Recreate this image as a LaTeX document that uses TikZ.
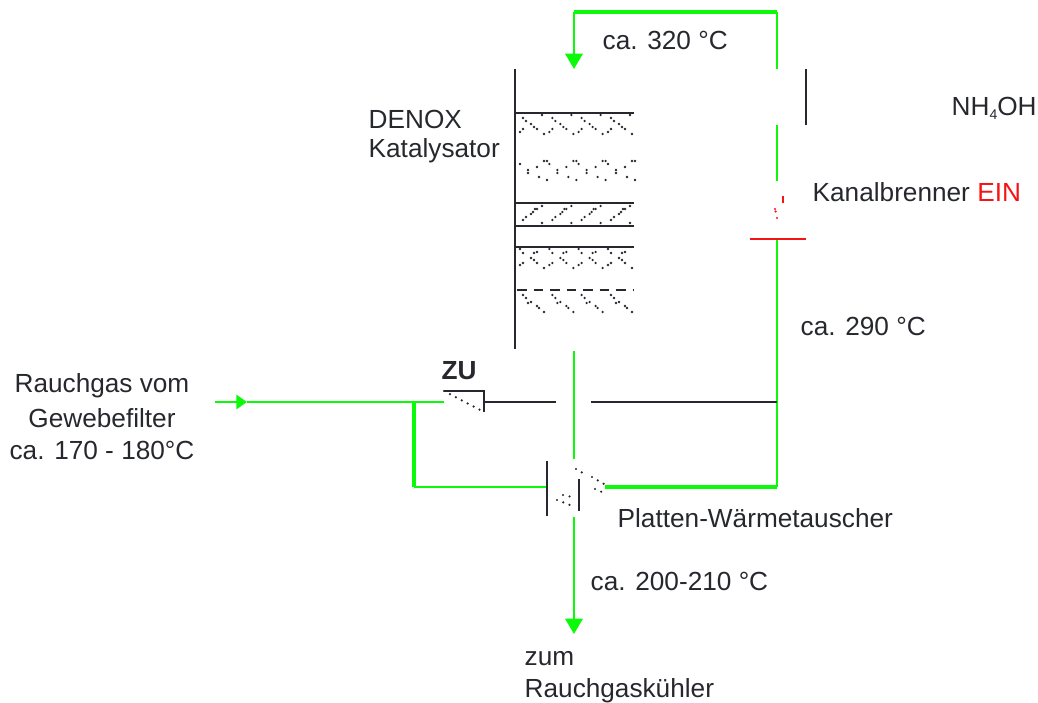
\documentclass[tikz,border=0pt]{standalone}
\usepackage{fontspec}
\setmainfont{Liberation Sans}
\usepackage{xcolor}
\usetikzlibrary{arrows.meta,positioning,calc}
\definecolor{gasgreen}{RGB}{10,250,10}
\definecolor{pipegray}{RGB}{38,40,46}
\definecolor{burnerred}{RGB}{245,20,20}
\tikzset{
  lbl/.style={font=\fontsize{7.45}{9}\selectfont, text=pipegray, inner sep=0pt, anchor=west},
  lblc/.style={lbl, anchor=center},
  gas/.style={draw=gasgreen, line width=0.62pt},
  gasthick/.style={draw=gasgreen, line width=1.15pt},
  gasarrow/.style={gas, -{Triangle[length=4.4pt,width=5pt]}},
  pipe/.style={draw=pipegray, line width=0.55pt},
  bed/.style={draw=pipegray, line width=0.5pt},
  grain/.style={draw=pipegray, line width=0.7pt, line cap=round, dash pattern=on 0pt off 1.9pt},
  grainfill/.style={fill=pipegray},
  flame/.style={draw=burnerred, line width=0.7pt, line cap=round, dash pattern=on 0pt off 1.9pt}
}
% one catalyst layer: dots repeated across the bed
\newcommand{\beddots}[2]{
  \foreach \k in {0,1,2,3} {
    \foreach \dx/\dy in {#2} {
      \fill[grainfill] ({520+\k*29.33+\dx},{#1+\dy}) circle (0.37pt);
    }
  }
}
\begin{document}
\begin{tikzpicture}[x=0.01cm, y=-0.01cm]
  \useasboundingbox (0,0) rectangle (1038,702);
  % Flue gas loop, top
  \coordinate (topL) at (574,12);
  \coordinate (topR) at (777,12);
  \coordinate (katIn) at (574,69);
  \coordinate (ductA) at (777,69);
  \coordinate (ductB) at (777,125);
  \coordinate (ductC) at (777,181);
  \coordinate (burner) at (777,239);
  \coordinate (teeR) at (777,402);
  \coordinate (cornerR) at (777,487);
  \draw[gasthick] (topL) -- (topR);
  \draw[gasarrow] (topL) -- (katIn);
  \draw[gas] (topR) -- (ductA);
  \draw[gas] (ductB) -- (ductC);
  \draw[gas] (burner) -- (cornerR);
  % Ammonia lance
  \coordinate (lanceA) at (806,69);
  \coordinate (lanceB) at (806,125);
  \draw[pipe] (lanceA) -- (lanceB);
  % Burner
  \coordinate (barL) at (750,239);
  \coordinate (barR) at (806,239);
  \coordinate (flA) at (777,218);
  \coordinate (flB) at (775,208);
  \coordinate (flC) at (783,196);
  \draw[burnerred, line width=0.6pt] (barL) -- (barR);
  \draw[flame] (flA) -- (flB);
  \draw[flame] (775,209) -- (780,213);
  \draw[burnerred, line width=0.6pt] (flC) -- (783,203);
  % Catalyst
  \coordinate (wallT) at (515,69);
  \coordinate (wallB) at (515,349);
  \draw[pipe, line width=0.65pt] (wallT) -- (wallB);
  \foreach \y in {113,203,226,247} {
    \draw[bed] (515,\y) -- (634,\y);
  }
  \draw[bed, dash pattern=on 2.8pt off 1.9pt] (517,290) -- (634,290);
  \beddots{113}{0/19,3/16,3/5,6/8,11/11,14/14,17/16,24/21,22/2}
  \beddots{160}{0/4,8/10,8/13,17/7,19/17,24/1,27/1,27/20}
  \beddots{203}{3/17,6/14,11/11,13/9,15/6,17/6,22/3,22/20}
  \beddots{247}{0/2,3/6,0/18,3/16,11/11,14/6,17/5,14/13,17/16,24/21}
  \beddots{290}{3/5,6/8,8/13,11/12,17/16,19/18,24/22}
  % Bypass valve
  \coordinate (vlvA) at (444,391);
  \coordinate (vlvB) at (484,391);
  \coordinate (vlvC) at (484,412);
  \coordinate (vlvIn) at (444,402);
  \coordinate (vlvOut) at (484,402);
  \coordinate (gapL) at (556,402);
  \coordinate (gapR) at (591,402);
  \draw[pipe] (vlvA) -- (vlvB) -- (vlvC);
  \draw[grain] (vlvA) -- (vlvC);
  \draw[pipe] (vlvOut) -- (gapL);
  \draw[pipe] (gapR) -- (teeR);
  % Inlet
  \coordinate (inlet) at (215,402);
  \coordinate (inMid) at (247,402);
  \coordinate (teeL) at (414,402);
  \coordinate (cornerL) at (414,487);
  \coordinate (hxIn) at (547,487);
  \coordinate (hxOut) at (605,487);
  \draw[gas, -{Triangle[length=3pt,width=4pt]}] (inlet) -- (inMid);
  \draw[gas] (inMid) -- (vlvIn);
  \draw[gasthick] (teeL) -- (cornerL);
  \draw[gas, line width=0.75pt] (cornerL) -- (hxIn);
  \draw[gasthick] (hxOut) -- (cornerR);
  % Plate heat exchanger
  \coordinate (hxLa) at (547,461);
  \coordinate (hxLb) at (547,516);
  \coordinate (hxRa) at (579,479);
  \coordinate (hxRb) at (579,511);
  \draw[pipe] (hxLa) -- (hxLb);
  \draw[pipe] (hxRa) -- (hxRb);
  \draw[grain] (576,469) -- (583,473);
  \draw[grain] (592,477) -- (604,484);
  \draw[grain] (595,489) -- (602,492);
  \draw[grain] (557,500) -- (575,507);
  \draw[grain] (563,495) -- (572,497);
  % Outlet
  \coordinate (katOut) at (574,351);
  \coordinate (hxTop) at (574,459);
  \coordinate (hxBot) at (574,517);
  \coordinate (outlet) at (574,634);
  \draw[gas] (katOut) -- (hxTop);
  \draw[gasarrow] (hxBot) -- (outlet);
  % Labels
  \node[lbl] (t320) at (602,40) {ca. 320 °C};
  \node[lbl] (denox) at (368,119) {DENOX};
  \node[lbl] (kat) at (368,151) {Katalysator};
  \node[lbl] (nh) at (951,108) {NH\raisebox{-0.3ex}{\fontsize{4}{4}\selectfont 4}OH};
  \node[lbl] (brenner) at (812,192) {Kanalbrenner \textcolor{burnerred}{EIN}};
  \node[lbl] (t290) at (800,326) {ca. 290 °C};
  \node[lbl, font=\fontsize{7.45}{9}\selectfont\bfseries] (zu) at (441,371) {ZU};
  \node[lblc] (rauch) at (102,386) {Rauchgas vom};
  \node[lblc] (filter) at (102,418) {Gewebefilter};
  \node[lblc] (t170) at (102,450) {ca. 170 - 180°C};
  \node[lbl] (platten) at (617,518) {Platten-Wärmetauscher};
  \node[lbl] (t200) at (590,581) {ca. 200-210 °C};
  \node[lbl] (zum) at (524,659) {zum};
  \node[lbl] (kuehler) at (524,691) {Rauchgaskühler};
\end{tikzpicture}
\end{document}
